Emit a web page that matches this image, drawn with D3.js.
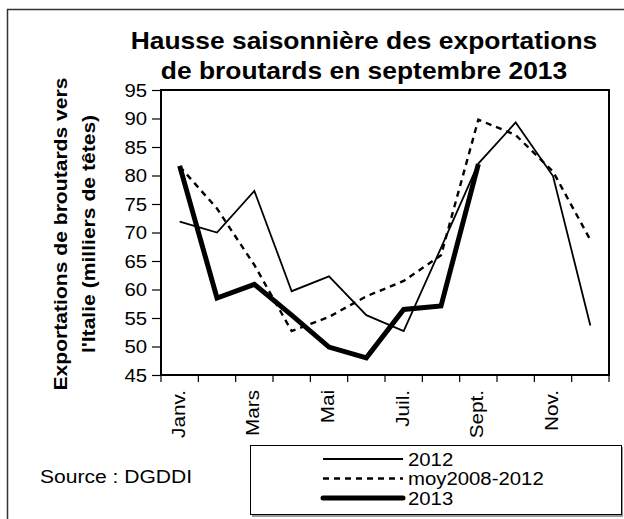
<!DOCTYPE html>
<html>
<head>
<meta charset="utf-8">
<script src="https://cdn.jsdelivr.net/npm/d3@7"></script>
<style>
  body { margin: 0; background: #fff; }
  text { font-family: "Liberation Sans", Arial, sans-serif; }
</style>
</head>
<body>
<div id="chart"></div>
<script>
const months = ['Janv.', 'Févr.', 'Mars', 'Avr.', 'Mai', 'Juin', 'Juil.', 'Août', 'Sept.', 'Oct.', 'Nov.', 'Déc.'];
const shownMonths = ['Janv.', 'Mars', 'Mai', 'Juil.', 'Sept.', 'Nov.'];
const yTicks = [45, 50, 55, 60, 65, 70, 75, 80, 85, 90, 95];

const v2012 = [71.9, 70.0, 77.3, 59.7, 62.3, 55.5, 52.7, 67.3, 82.1, 89.3, 79.9, 53.7];
const vMoy = [81.6, 74.2, 64.3, 52.7, 55.2, 58.8, 61.5, 66.0, 89.8, 87.1, 80.7, 68.7];
const v2013 = [81.7, 58.5, 60.9, 55.5, 49.9, 48.0, 56.5, 57.1, 82.0, null, null, null];

const series = [
  { name: '2012', values: v2012, width: 1.8, dash: null },
  { name: 'moy2008-2012', values: vMoy, width: 2.4, dash: '6,5' },
  { name: '2013', values: v2013, width: 5, dash: null }
];

const W = 624, H = 519;
const pLeft = 161, pRight = 609, pTop = 90, pBottom = 375;
const wide = 1.13; // the original text is drawn a bit wider than Arial

// stretch text along its own direction
function widen(sel, k) {
  sel.each(function() {
    const len = this.getComputedTextLength();
    d3.select(this).attr('textLength', len * k).attr('lengthAdjust', 'spacingAndGlyphs');
  });
}

const svg = d3.select('#chart').append('svg')
    .attr('width', W)
    .attr('height', H);

// outer frame (runs off the right and bottom edges)
svg.append('rect')
    .attr('x', 7.5).attr('y', 9.5)
    .attr('width', 640).attr('height', 540)
    .attr('fill', 'none').attr('stroke', '#333').attr('stroke-width', 1.5);

const x = d3.scaleBand().domain(months).range([pLeft, pRight]).padding(0);
const y = d3.scaleLinear().domain([45, 95]).range([pBottom, pTop]);

// title
const title = svg.append('g').attr('class', 'title');
title.append('text')
    .attr('x', 364).attr('y', 49)
    .text('Hausse saisonnière des exportations');
title.append('text')
    .attr('x', 364).attr('y', 79)
    .text('de broutards en septembre 2013');
title.selectAll('text')
    .attr('text-anchor', 'middle')
    .style('font-size', '24px').style('font-weight', 'bold')
    .call(widen, 1.1);

// y axis title
const yTitle = svg.append('g').attr('transform', 'translate(0,234) rotate(-90)');
yTitle.append('text').attr('x', 0).attr('y', 67).text('Exportations de broutards vers');
yTitle.append('text').attr('x', 0).attr('y', 95).text("l'Italie (milliers de têtes)");
yTitle.selectAll('text')
    .attr('text-anchor', 'middle')
    .style('font-size', '19px').style('font-weight', 'bold')
    .call(widen, 1.11);

// y axis
svg.append('g')
    .attr('transform', 'translate(' + pLeft + ',0)')
    .call(d3.axisLeft(y).tickValues(yTicks).tickSize(9).tickPadding(5).tickSizeOuter(0))
    .call(g => g.select('.domain').remove())
    .call(g => g.selectAll('line').attr('stroke', '#000').attr('stroke-width', 1.2))
    .call(g => g.selectAll('text').attr('font-family', null).attr('dy', '0.36em')
        .style('font-size', '18px').call(widen, wide));

// x tick marks at band edges
const edges = months.map(m => x(m)).concat([pRight]);
svg.selectAll('.xtick').data(edges).join('line')
    .attr('class', 'xtick')
    .attr('x1', d => d).attr('x2', d => d)
    .attr('y1', pBottom).attr('y2', pBottom + 7)
    .attr('stroke', '#000').attr('stroke-width', 1.2);

// x labels
svg.selectAll('.xlab').data(shownMonths).join('text')
    .attr('class', 'xlab')
    .attr('transform', d => 'translate(' + (x(d) + x.bandwidth() / 2 + 5) + ',' + (pBottom + 15) + ') rotate(-90)')
    .attr('text-anchor', 'end')
    .style('font-size', '18px')
    .text(d => d)
    .call(widen, 1.15);

// plot frame
svg.append('rect')
    .attr('x', pLeft).attr('y', pTop)
    .attr('width', pRight - pLeft).attr('height', pBottom - pTop)
    .attr('fill', 'none').attr('stroke', '#000').attr('stroke-width', 2);

// lines
const line = d3.line()
    .defined(d => d != null)
    .x((d, i) => x(months[i]) + x.bandwidth() / 2)
    .y(d => y(d));

svg.selectAll('.series').data(series).join('path')
    .attr('class', 'series')
    .attr('d', d => line(d.values))
    .attr('fill', 'none')
    .attr('stroke', '#000')
    .attr('stroke-width', d => d.width)
    .attr('stroke-dasharray', d => d.dash)
    .attr('stroke-linejoin', 'miter');

// source
svg.append('text')
    .attr('x', 40).attr('y', 483)
    .style('font-size', '18px')
    .text('Source : DGDDI')
    .call(widen, 1.17);

// legend
const lg = svg.append('g');
lg.append('rect')
    .attr('x', 252).attr('y', 447).attr('width', 371).attr('height', 70)
    .attr('fill', '#999');
lg.append('rect')
    .attr('x', 250.5).attr('y', 445.5).attr('width', 371).attr('height', 69)
    .attr('fill', '#fff').attr('stroke', '#000').attr('stroke-width', 1);
const legendY = [459, 478.5, 498];
series.forEach((s, i) => {
  lg.append('line')
      .attr('x1', 323).attr('x2', 403)
      .attr('y1', legendY[i]).attr('y2', legendY[i])
      .attr('stroke', '#000')
      .attr('stroke-width', s.width)
      .attr('stroke-dasharray', s.dash)
      .attr('stroke-linecap', i === 2 ? 'round' : 'butt');
  lg.append('text')
      .attr('x', 408).attr('y', legendY[i] + 6.5)
      .style('font-size', '18px')
      .text(s.name)
      .call(widen, wide);
});
</script>
</body>
</html>
